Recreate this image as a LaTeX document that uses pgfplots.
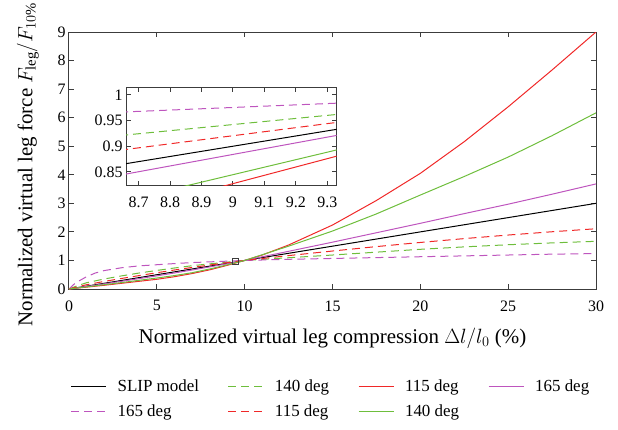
\documentclass[border=0pt]{standalone}
\usepackage{amsmath}
\usepackage{fontspec}
\setmainfont{Liberation Serif}
\usepackage{pgfplots}
\pgfplotsset{compat=1.18}
\definecolor{cRed}{RGB}{240,40,40}
\definecolor{cGreen}{RGB}{110,190,60}
\definecolor{cMag}{RGB}{190,85,190}
\definecolor{axgray}{RGB}{60,60,60}
\pgfplotsset{
  mystyle/.style={
    scale only axis,
    tick align=inside,
    axis line style={axgray,line width=1bp},
    tick style={axgray,line width=1bp},
    major tick length=5bp,
    /pgf/number format/assume math mode=true,
    tick label style={font=\fontsize{16}{18}\selectfont},
    xticklabel style={yshift=-8bp},
    label style={font=\fontsize{21}{24}\selectfont},
  },
  sl/.style={line width=1bp},
  dl/.style={line width=1bp,dash pattern=on 8bp off 5bp},
}
\begin{document}
\begin{tikzpicture}
\path[use as bounding box] (-69bp,-141bp) rectangle (549bp,289bp);
\begin{axis}[mystyle,
  at={(0,0)}, anchor=south west, width=527bp, height=257bp,
  xmin=0, xmax=30, ymin=0, ymax=9,
  xtick={0,5,10,15,20,25,30}, ytick={0,1,2,3,4,5,6,7,8,9},
  xlabel={Normalized virtual leg compression $\Delta l/l_0$ (\%)},
  ylabel={Normalized virtual leg force $F_{\text{leg}}/F_{10\%}$},
  xlabel shift=10bp,
  ylabel shift=12bp,
  ylabel style={xshift=-4bp},
  legend columns=4,
  legend cell align=left,
  legend image code/.code={\draw[#1] (0bp,0bp) -- (35bp,0bp); \path (44bp,0bp);},
  legend style={at={(0.497,-0.337)}, anchor=north, draw=none, fill=none,
    font=\fontsize{17}{20}\selectfont, row sep=7.5bp,
    /tikz/every even column/.append style={column sep=27bp}},
]
\addplot[sl, black] coordinates {(0,0) (30,3)};
\addlegendentry{SLIP model}
\addplot[dl, cGreen] coordinates {(0,0) (0.5,0.12) (1,0.22) (2,0.35) (3,0.46) (4,0.56) (5,0.65) (6,0.735) (7,0.815) (8,0.88) (9,0.94) (10,1.0) (12.5,1.095) (15,1.19) (17.5,1.29) (20,1.39) (22.5,1.475) (25,1.55) (27.5,1.615) (30,1.67)};
\addlegendentry{140 deg}
\addplot[sl, cRed] coordinates {(0,0) (1,0.065) (2,0.13) (3,0.2) (4,0.27) (5,0.34) (6,0.43) (7,0.54) (8,0.67) (9,0.827) (10,1.0) (11,1.19) (12.5,1.54) (15,2.24) (17.5,3.10) (20,4.05) (22.5,5.16) (25,6.38) (27.5,7.67) (30,9.0)};
\addlegendentry{115 deg}
\addplot[sl, cMag] coordinates {(0,0) (1,0.09) (2,0.18) (3,0.27) (4,0.365) (5,0.46) (6,0.56) (7,0.665) (8,0.773) (9,0.884) (10,1.0) (12.5,1.32) (15,1.64) (17.5,1.97) (20,2.30) (22.5,2.64) (25,2.97) (27.5,3.32) (30,3.68)};
\addlegendentry{165 deg}
\addplot[dl, cMag] coordinates {(0,0) (0.25,0.15) (0.5,0.26) (1,0.43) (1.5,0.56) (2,0.645) (3,0.745) (4,0.81) (5,0.85) (6,0.89) (7,0.925) (8,0.95) (9,0.975) (10,1.0) (12.5,1.04) (15,1.07) (17.5,1.10) (20,1.13) (22.5,1.16) (25,1.19) (27.5,1.22) (30,1.24)};
\addlegendentry{165 deg}
\addplot[dl, cRed] coordinates {(0,0) (0.5,0.08) (1,0.15) (2,0.265) (3,0.37) (4,0.47) (5,0.57) (6,0.665) (7,0.754) (8,0.839) (9,0.921) (10,1.0) (12.5,1.17) (15,1.33) (17.5,1.485) (20,1.63) (22.5,1.765) (25,1.89) (27.5,2.005) (30,2.11)};
\addlegendentry{115 deg}
\addplot[sl, cGreen] coordinates {(0,0) (1,0.075) (2,0.15) (3,0.225) (4,0.305) (5,0.385) (6,0.47) (7,0.57) (8,0.70) (9,0.845) (10,1.0) (12.5,1.5) (15,2.03) (17.5,2.63) (20,3.29) (22.5,3.94) (25,4.62) (27.5,5.37) (30,6.17)};
\addlegendentry{140 deg}
\addplot[only marks, mark=square, mark size=3bp, axgray, line width=1bp, forget plot] coordinates {(9.45,0.96)};
\end{axis}
\begin{axis}[mystyle,
  at={(57bp,103.3bp)}, anchor=south west, width=210.7bp, height=98.4bp,
  xmin=8.66, xmax=9.33, ymin=0.823, ymax=1.015,
  xtick={8.7,8.8,8.9,9.0,9.1,9.2,9.3},
  xticklabels={8.7,8.8,8.9,9,9.1,9.2,9.3},
  ytick={0.85,0.9,0.95,1.0},
  yticklabels={0.85,0.9,0.95,1},
]
\addplot[sl, black] coordinates {(8.6,0.86) (9.4,0.94)};
\addplot[dl, cGreen] coordinates {(8.6,0.9184) (9.4,0.9662)};
\addplot[sl, cRed] coordinates {(8.6,0.762) (9.4,0.892)};
\addplot[sl, cMag] coordinates {(8.6,0.839) (9.4,0.929)};
\addplot[dl, cMag] coordinates {(8.6,0.9655) (9.4,0.9858)};
\addplot[dl, cRed] coordinates {(8.6,0.889) (9.4,0.952)};
\addplot[sl, cGreen] coordinates {(8.6,0.786) (9.4,0.903)};
\end{axis}
\end{tikzpicture}
\end{document}
